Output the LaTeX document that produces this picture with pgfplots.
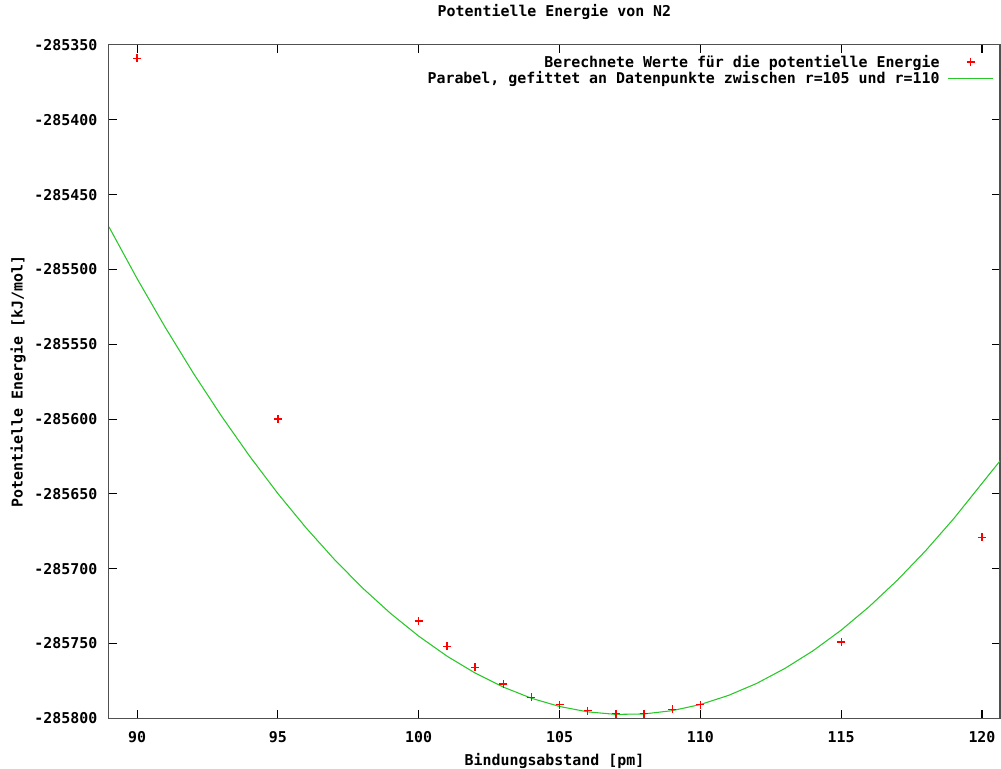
\documentclass[border=0pt]{standalone}
\usepackage{fontspec}
\setmainfont{DejaVu Sans Mono}
\usepackage{pgfplots}
\pgfplotsset{compat=1.18}

\definecolor{fitgreen}{RGB}{40,200,40}
\definecolor{frame}{RGB}{80,80,80}

\pgfplotsset{
    markleg/.style={legend image code/.code={\path (0pt,0pt) (34pt,0pt); \draw[##1] plot coordinates {(17pt,0pt)};}},
    lineleg/.style={legend image code/.code={\draw[##1] (0pt,0pt) -- (34pt,0pt);}},
}

\begin{document}
\begin{tikzpicture}
\begin{axis}[
    scale only axis,
    width=669pt,
    height=505.5pt,
    xmin=89, xmax=120.64,
    ymin=-285800, ymax=-285350,
    scaled y ticks=false,
    scaled x ticks=false,
    font=\fontsize{11.2}{13}\selectfont\bfseries,
    axis line style={frame, line width=0.8pt},
    tick style={black, line width=0.8pt},
    tick align=inside,
    major tick length=6pt,
    xtick={90,95,100,105,110,115,120},
    xticklabels={90,95,100,105,110,115,120},
    ytick={-285800,-285750,-285700,-285650,-285600,-285550,-285500,-285450,-285400,-285350},
    yticklabels={-285800,-285750,-285700,-285650,-285600,-285550,-285500,-285450,-285400,-285350},
    xticklabel style={anchor=center, yshift=-14pt},
    yticklabel style={anchor=east, inner sep=0pt, xshift=-8.5pt},
    title={Potentielle Energie von N2},
    title style={at={(0.5,1)}, anchor=center, yshift=18.4pt},
    xlabel={Bindungsabstand [pm]},
    xlabel style={at={(0.5,0)}, anchor=center, yshift=-32pt},
    ylabel={Potentielle Energie [kJ/mol]},
    ylabel style={at={(0,0.5)}, anchor=center, yshift=68.25pt},
    legend plot pos=right,
    legend cell align=right,
    legend style={draw=none, fill=none, at={(1,1)}, anchor=north east,
        xshift=-4.5pt, yshift=-6.5pt, inner sep=0pt, row sep=0pt, column sep=5pt,
        nodes={inner sep=0.9pt}},
]
% Berechnete Werte
\addplot[only marks, mark=+, draw=red, color=red, mark size=3pt,
    mark options={draw=red, solid, line width=1pt}, markleg]
coordinates {
    (90,-285359) (95,-285600) (100,-285735) (101,-285752) (102,-285766)
    (103,-285777) (104,-285786) (105,-285791) (106,-285795) (107,-285797)
    (108,-285797) (109,-285794) (110,-285791) (115,-285749) (120,-285679)
};
% Parabel-Fit
\addplot[color=fitgreen, line width=0.8pt, mark=none, lineleg]
coordinates {
    (89,-285471.5) (90,-285506.1) (91,-285538.7) (92,-285569.4) (93,-285598.1)
    (94,-285624.9) (95,-285649.8) (96,-285672.7) (97,-285693.7) (98,-285712.8)
    (99,-285729.9) (100,-285745.1) (101,-285758.4) (102,-285769.7) (103,-285779.1)
    (104,-285786.6) (105,-285792.1) (106,-285795.7) (107,-285797.4) (108,-285797.1)
    (109,-285794.9) (110,-285790.8) (111,-285784.7) (112,-285776.7) (113,-285766.7)
    (114,-285754.9) (115,-285741.1) (116,-285725.3) (117,-285707.6) (118,-285688.0)
    (119,-285666.5) (120,-285643.0) (120.64,-285628.0)
};
\legend{Berechnete Werte für die potentielle Energie, {Parabel, gefittet an Datenpunkte zwischen r=105 und r=110}}
\end{axis}
\pgfresetboundingbox
\useasboundingbox (-81.75pt,-37.5pt) rectangle (669.75pt,539.25pt);
\end{tikzpicture}
\end{document}
